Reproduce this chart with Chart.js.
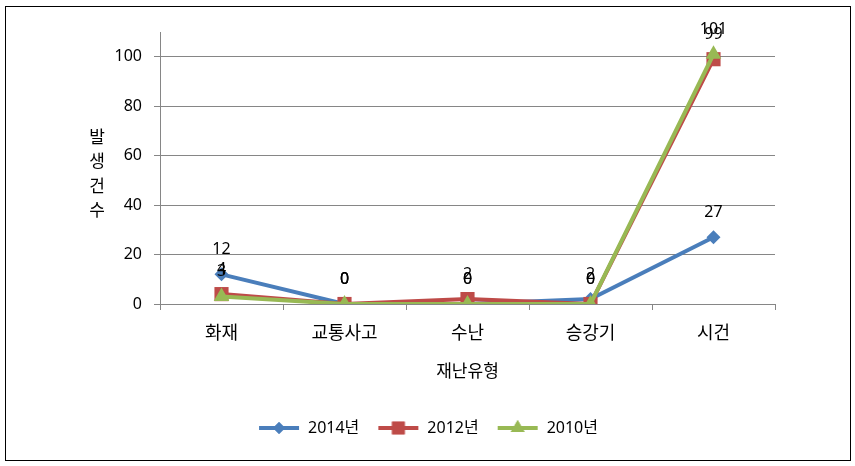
<!DOCTYPE html>
<html>
<head>
<meta charset="utf-8">
<script src="https://cdn.jsdelivr.net/npm/chart.js@4/dist/chart.umd.min.js"></script>
<style>
  html, body { margin: 0; padding: 0; background: #fff; }
  #box { position: absolute; left: 5px; top: 6px; width: 844px; height: 453px; border: 1px solid #000; }
  canvas { display: block; }
</style>
</head>
<body>
<div id="box"><canvas id="disaster_chart" width="844" height="453"></canvas></div>
<script>
// 재난유형별 발생건수
var categories = ["화재", "교통사고", "수난", "승강기", "시건"];
var seriesNames = ["2014년", "2012년", "2010년"];
var values2014 = [12, 0, 0, 2, 27];
var values2012 = [4, 0, 2, 0, 99];
var values2010 = [3, 0, 0, 0, 101];
var yTicks = [0, 20, 40, 60, 80, 100];
var yTitleChars = ["발", "생", "건", "수"];
var xTitle = "재난유형";

var lineColors = ["#4A7EBB", "#BE4B48", "#98B954"];
var markerStyles = ["rectRot", "rect", "triangle"];
var markerRadius = [7, 10, 9];

var fontFamily = "'Noto Sans', 'Noto Sans CJK KR', sans-serif";
Chart.defaults.font.family = fontFamily;
Chart.defaults.font.size = 16;
Chart.defaults.color = "#000";

// small line + marker pictures for the legend
function legendIcon(i) {
  var c = document.createElement("canvas");
  c.width = 42; c.height = 18;
  var ctx = c.getContext("2d");
  ctx.strokeStyle = lineColors[i];
  ctx.lineWidth = 4;
  ctx.beginPath(); ctx.moveTo(1, 9); ctx.lineTo(41, 9); ctx.stroke();
  ctx.fillStyle = lineColors[i];
  Chart.helpers.drawPoint(ctx, {pointStyle: markerStyles[i], radius: markerRadius[i] - 1, borderWidth: 0}, 21, 9);
  ctx.fill();
  return c;
}

var valueLabels = {
  id: "valueLabels",
  afterDatasetsDraw: function(chart) {
    var ctx = chart.ctx;
    ctx.save();
    ctx.font = "16px " + fontFamily;
    ctx.fillStyle = "#000";
    ctx.textAlign = "center";
    ctx.textBaseline = "middle";
    chart.data.datasets.forEach(function(ds, i) {
      chart.getDatasetMeta(i).data.forEach(function(pt, j) {
        ctx.fillText(String(ds.data[j]), pt.x, pt.y - 25);
      });
    });
    // vertical y-axis title, one character per line
    ctx.font = "17px " + fontFamily;
    var a = chart.chartArea;
    var mid = (a.top + a.bottom) / 2;
    yTitleChars.forEach(function(ch, k) {
      ctx.fillText(ch, 91, mid - 30 + k * 24.5);
    });
    ctx.restore();
  }
};

var datasets = [values2014, values2012, values2010].map(function(vals, i) {
  return {
    label: seriesNames[i],
    data: vals,
    borderColor: lineColors[i],
    backgroundColor: lineColors[i],
    borderWidth: 4,
    pointStyle: markerStyles[i],
    pointRadius: markerRadius[i],
    pointBorderWidth: 0,
    pointHoverRadius: markerRadius[i],
    tension: 0,
    order: 2 - i
  };
});

var chart = new Chart("disaster_chart", {
  type: "line",
  data: { labels: categories, datasets: datasets },
  options: {
    responsive: false,
    animation: false,
    layout: { padding: { top: 25, right: 0, bottom: 14, left: 0 } },
    plugins: {
      tooltip: { enabled: false },
      legend: {
        position: "bottom",
        labels: {
          usePointStyle: true,
          pointStyleWidth: 42,
          padding: 18,
          generateLabels: function(ch) {
            return ch.data.datasets.map(function(ds, i) {
              return {
                text: ds.label,
                pointStyle: legendIcon(i),
                fillStyle: lineColors[i],
                strokeStyle: lineColors[i],
                lineWidth: 0,
                fontColor: "#000",
                datasetIndex: i,
                hidden: false
              };
            });
          }
        }
      }
    },
    scales: {
      x: {
        offset: true,
        afterFit: function(s) { s.height = 98; },
        grid: { offset: true, drawOnChartArea: false, color: "#868686", tickLength: 6, tickColor: "#868686" },
        border: { color: "#868686", width: 1 },
        ticks: { padding: 13, font: { size: 18 } },
        title: { display: true, text: xTitle, font: { size: 17 }, padding: { top: 18, bottom: 20 } }
      },
      y: {
        min: 0,
        max: 110,
        afterFit: function(s) { s.width = 154; },
        afterBuildTicks: function(s) { s.ticks = yTicks.map(function(v) { return { value: v }; }); },
        grid: { color: "#868686", tickLength: 6, tickColor: "#868686" },
        border: { color: "#868686", width: 1 },
        ticks: { padding: 12, font: { size: 16 } }
      },
      // empty right-hand axis that only reserves the blank margin
      spacer: {
        position: "right",
        min: 0,
        max: 110,
        afterFit: function(s) { s.width = 75; },
        grid: { display: false },
        border: { display: false },
        ticks: { display: false }
      }
    }
  },
  plugins: [valueLabels]
});
</script>
</body>
</html>
